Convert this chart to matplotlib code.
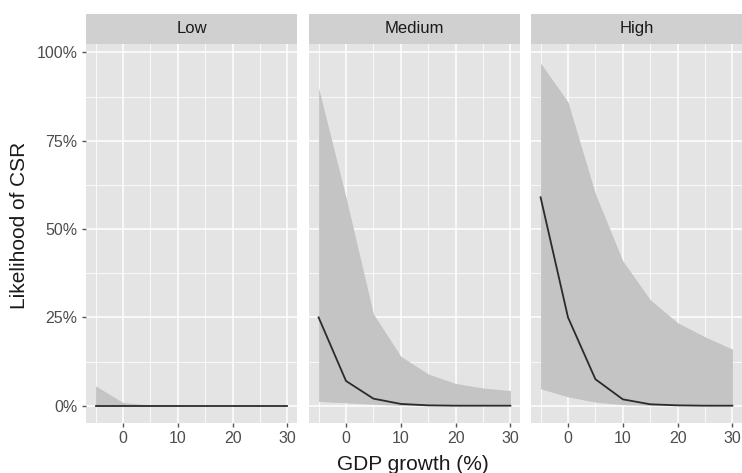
import numpy as np
import matplotlib.pyplot as plt

plt.rcParams['font.family'] = ['Liberation Sans', 'DejaVu Sans']

# ============================================================
# DATA
# ============================================================
gdp = [-5, 0, 5, 10, 15, 20, 25, 30]
groups = ['Low', 'Medium', 'High']

fit_low = [0.0, 0.0, 0.0, 0.0, 0.0, 0.0, 0.0, 0.0]
lo_low = [0.0, 0.0, 0.0, 0.0, 0.0, 0.0, 0.0, 0.0]
hi_low = [0.056, 0.009, 0.002, 0.0005, 0.0, 0.0, 0.0, 0.0]

fit_med = [0.25, 0.07, 0.02, 0.005, 0.001, 0.0, 0.0, 0.0]
lo_med = [0.012, 0.008, 0.004, 0.001, 0.0, 0.0, 0.0, 0.0]
hi_med = [0.90, 0.59, 0.26, 0.14, 0.09, 0.063, 0.05, 0.043]

fit_high = [0.59, 0.25, 0.075, 0.018, 0.004, 0.001, 0.0, 0.0]
lo_high = [0.048, 0.025, 0.01, 0.003, 0.001, 0.0, 0.0, 0.0]
hi_high = [0.97, 0.86, 0.60, 0.41, 0.30, 0.235, 0.195, 0.16]

fits = [fit_low, fit_med, fit_high]
lows = [lo_low, lo_med, lo_high]
highs = [hi_low, hi_med, hi_high]

yticks = [0, 0.25, 0.5, 0.75, 1.0]
ytick_labels = ['0%', '25%', '50%', '75%', '100%']
xticks = [0, 10, 20, 30]

# ============================================================
# PLOTTING (ggplot-like facets)
# ============================================================
W, H = 742, 473
fig = plt.figure(figsize=(W / 100, H / 100), dpi=100)

panel_bg = '#E4E4E4'
strip_bg = '#D0D0D0'
text_col = '#4D4D4D'
lefts = [86, 309, 531]
pw = 211
top, bottom = 44, 423
strip_top = 14

for i, (name, fit, lo, hi) in enumerate(zip(groups, fits, lows, highs)):
    ax = fig.add_axes([lefts[i] / W, 1 - bottom / H, pw / W, (bottom - top) / H])
    ax.set_facecolor(panel_bg)
    ax.fill_between(gdp, lo, hi, color='#C4C4C4', lw=0, zorder=2)
    ax.plot(gdp, fit, color='#2B2B2B', lw=1.3, zorder=3)
    ax.set_xlim(-6.75, 31.75)
    ax.set_ylim(-0.049, 1.024)

    ax.set_xticks(xticks)
    ax.set_xticks([-5, 5, 15, 25], minor=True)
    ax.set_yticks(yticks)
    ax.set_yticks([0.125, 0.375, 0.625, 0.875], minor=True)
    ax.grid(True, which='major', color='white', lw=1.1, zorder=1)
    ax.grid(True, which='minor', color='white', lw=0.55, zorder=1)
    ax.set_axisbelow(True)
    for s in ax.spines.values():
        s.set_visible(False)
    ax.tick_params(which='major', length=3, width=1, color='#555555',
                   labelcolor=text_col, labelsize=11.5, pad=3)
    ax.tick_params(which='minor', length=0)
    if i == 0:
        ax.set_yticklabels(ytick_labels)
    else:
        ax.tick_params(axis='y', which='major', left=False, labelleft=False)

    # strip
    sax = fig.add_axes([lefts[i] / W, 1 - top / H, pw / W, (top - strip_top) / H])
    sax.set_facecolor(strip_bg)
    sax.set_xticks([])
    sax.set_yticks([])
    for s in sax.spines.values():
        s.set_visible(False)
    sax.text(0.5, 0.5, name, ha='center', va='center', fontsize=12,
             color='#1A1A1A', transform=sax.transAxes)

fig.text(20 / W, 1 - 225 / H, 'Likelihood of CSR', rotation=90, ha='center',
         va='center', fontsize=15, color='#1A1A1A')
fig.text(413 / W, 1 - 464 / H, 'GDP growth (%)', ha='center', va='center',
         fontsize=15, color='#1A1A1A')

fig.savefig('out.png', dpi=100)
plt.close()
